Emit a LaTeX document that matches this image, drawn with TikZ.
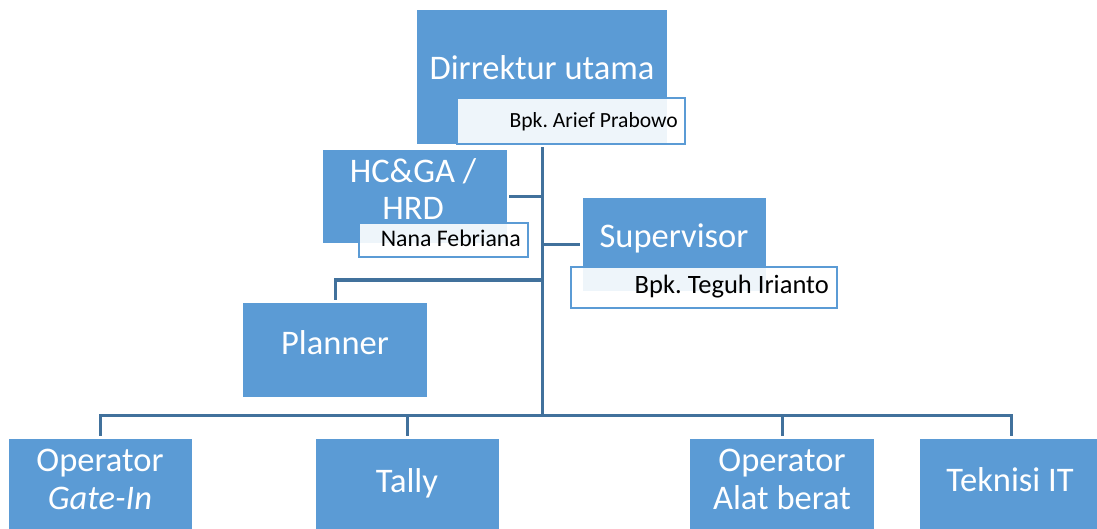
\documentclass[tikz,border=0pt]{standalone}
\usepackage{fontspec}
\setmainfont{Carlito}
\frenchspacing
\definecolor{boxblue}{HTML}{5B9BD5}
\definecolor{lineblue}{HTML}{41719C}
\begin{document}
\begin{tikzpicture}[x=1pt,y=-1pt,
  box/.style={fill=boxblue, draw=none, inner sep=0pt},
  namebox/.style={draw=boxblue, line width=2.5pt, fill=white, fill opacity=0.9, inner sep=0pt},
  maintext/.style={text=white, font=\fontsize{34.5}{37.5}\selectfont, align=center, inner sep=0pt},
  nametext/.style={text=black, inner sep=0pt, anchor=base east},
  conn/.style={draw=lineblue, line width=3pt, line join=miter}]
\useasboundingbox (0,0) rectangle (1097,529);
% blue boxes
\node[box, minimum width=250pt, minimum height=134pt] (dir) at (542,77) {};
\node[box, minimum width=184pt, minimum height=93pt] (hc) at (415,196.5) {};
\node[box, minimum width=183pt, minimum height=93pt] (sup) at (674.5,244.5) {};
\node[box, minimum width=184pt, minimum height=94pt] (plan) at (335,350) {};
\node[box, minimum width=183pt, minimum height=93pt] (gate) at (100.5,485.5) {};
\node[box, minimum width=183pt, minimum height=93pt] (tally) at (407.5,485.5) {};
\node[box, minimum width=184pt, minimum height=93pt] (alat) at (782,485.5) {};
\node[box, minimum width=183pt, minimum height=93pt] (tek) at (1011.5,485.5) {};
% name boxes
\node[namebox, minimum width=228pt, minimum height=46pt] (ariefbox) at (571,121) {};
\node[namebox, minimum width=169pt, minimum height=34pt] (nanabox) at (443.5,240) {};
\node[namebox, minimum width=266pt, minimum height=41pt] (teguhbox) at (704,287.5) {};
% main texts
\node[maintext, anchor=base] (dirT) at (542,80) {Dirrektur utama};
\node[maintext, anchor=base] (hcT) at (413,220) {HC\&GA /\\HRD};
\node[maintext, anchor=base] (supT) at (674,248) {Supervisor};
\node[maintext, anchor=base] (planT) at (335,354) {Planner};
\node[maintext, anchor=base] (gateT) at (100,509) {Operator\\\textit{Gate-In}};
\node[maintext, anchor=base] (tallyT) at (407,492) {Tally};
\node[maintext, anchor=base] (alatT) at (782,509) {Operator\\Alat berat};
\node[maintext, anchor=base] (tekT) at (1010,491) {Teknisi IT};
% name texts
\node[nametext, font=\fontsize{21.6}{26}\selectfont] (ariefT) at (678,128) {Bpk. Arief Prabowo};
\node[nametext, font=\fontsize{23.8}{28}\selectfont] (nanaT) at (521,247) {Nana Febriana};
\node[nametext, font=\fontsize{26.5}{31}\selectfont] (teguhT) at (829,294) {Bpk. Teguh Irianto};
% connectors
\coordinate (bus) at (542,415);
\coordinate (pj) at (542,280);
\draw[conn] ([yshift=-3pt]dir.south) -- (bus);
\draw[conn] ([xshift=2pt]hc.east) -- (hc.east -| bus);
\draw[conn] ([xshift=-3pt]sup.west) -- (sup.west -| bus);
\draw[conn] ([yshift=3pt]plan.north) |- (pj);
\draw[conn] ([yshift=3pt]gate.north) |- (bus);
\draw[conn] ([yshift=3pt]tally.north) |- (bus);
\draw[conn] ([yshift=3pt]alat.north) |- (bus);
\draw[conn] ([yshift=3pt]tek.north) |- (bus);
\end{tikzpicture}
\end{document}
